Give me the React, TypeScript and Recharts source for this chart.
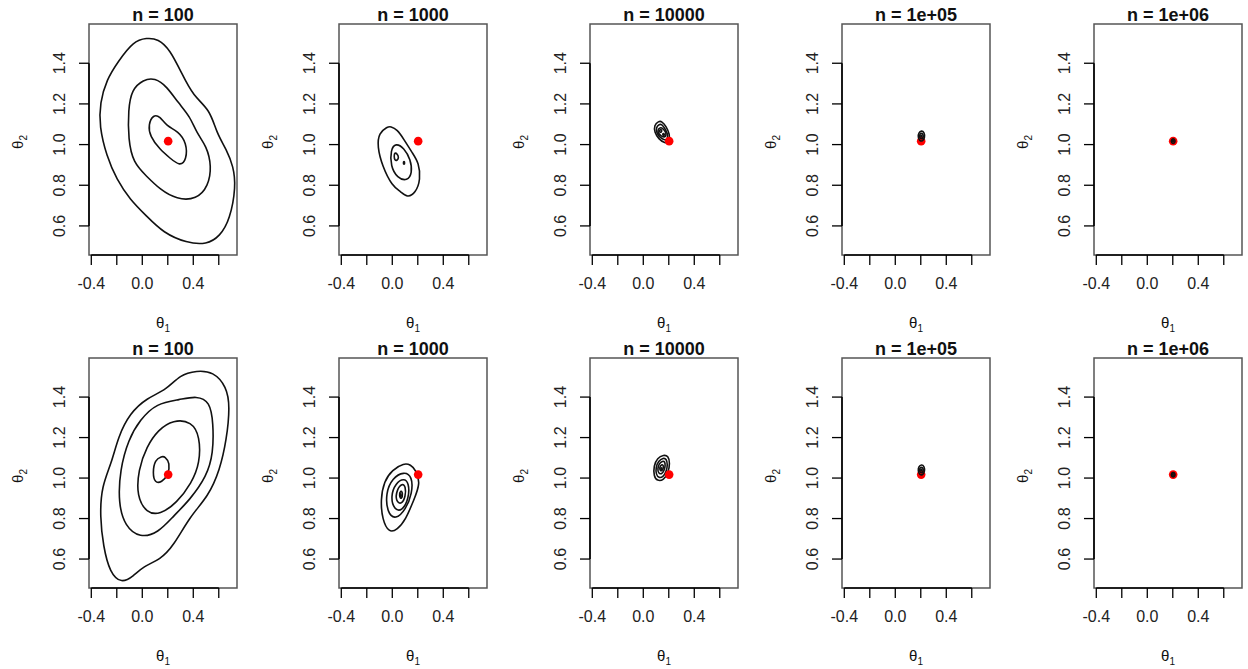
import React from 'react';
import {
  ComposedChart,
  Line,
  Scatter,
  XAxis,
  YAxis,
  ReferenceLine,
  ReferenceArea,
} from 'recharts';

const FONT = '"Liberation Sans", Arial, Helvetica, sans-serif';

const titles = ['n = 100', 'n = 1000', 'n = 10000', 'n = 1e+05', 'n = 1e+06'];
const xTicks = [-0.4, -0.2, 0, 0.2, 0.4, 0.6];
const xLabelled = [-0.4, 0, 0.4];
const yTicks = [0.6, 0.8, 1.0, 1.2, 1.4];
const X_DOMAIN = [-0.418, 0.743];
const Y_DOMAIN = [0.457, 1.593];
const truth = [[0.203, 1.017]];

// top row, n = 100
const top100Outer = [
  [0.034, 1.525], [-0.071, 1.508], [-0.188, 1.41], [-0.28, 1.32], [-0.332, 1.205],
  [-0.337, 1.09], [-0.28, 0.943], [-0.201, 0.828], [-0.097, 0.73], [0.034, 0.648],
  [0.165, 0.566], [0.348, 0.516], [0.505, 0.508], [0.609, 0.549], [0.688, 0.631],
  [0.735, 0.795], [0.714, 0.893], [0.661, 0.975], [0.583, 1.057], [0.531, 1.172],
  [0.4, 1.238], [0.308, 1.352], [0.217, 1.467], [0.125, 1.52],
];
const top100Mid = [
  [0.008, 1.32], [-0.084, 1.27], [-0.11, 1.172], [-0.11, 1.025], [-0.071, 0.91],
  [0.034, 0.844], [0.139, 0.779], [0.27, 0.73], [0.426, 0.73], [0.518, 0.795],
  [0.544, 0.893], [0.505, 0.992], [0.426, 1.057], [0.374, 1.139], [0.282, 1.205],
  [0.191, 1.287], [0.099, 1.328],
];
const top100Inner = [
  [0.086, 1.148], [0.047, 1.098], [0.06, 1.041], [0.139, 0.975], [0.217, 0.934],
  [0.295, 0.893], [0.348, 0.926], [0.348, 1.008], [0.282, 1.066], [0.191, 1.09],
  [0.139, 1.139],
];

// top row, n = 1000
const top1000Outer = [
  [-0.039, 1.087], [-0.105, 1.057], [-0.118, 0.992], [-0.078, 0.893], [0.0, 0.795],
  [0.065, 0.77], [0.118, 0.738], [0.183, 0.762], [0.222, 0.828], [0.209, 0.91],
  [0.157, 0.959], [0.092, 1.025], [0.039, 1.074], [-0.013, 1.09],
];
const top1000Mid = [
  [0.026, 1.008], [-0.013, 0.975], [-0.013, 0.893], [0.039, 0.836], [0.118, 0.82],
  [0.157, 0.861], [0.144, 0.926], [0.092, 0.984],
];
const top1000Tri = [[0.013, 0.975], [0.013, 0.91], [0.065, 0.934]];
const top1000Dot = [[0.092, 0.92], [0.085, 0.91], [0.092, 0.9], [0.099, 0.91]];

// top row, n = 10000
const top1e4Ring1 = [
  [0.12, 1.115], [0.085, 1.095], [0.088, 1.06], [0.12, 1.028], [0.17, 1.005],
  [0.205, 1.015], [0.208, 1.05], [0.18, 1.09], [0.145, 1.115],
];
const top1e4Ring2 = [
  [0.125, 1.1], [0.1, 1.085], [0.104, 1.058], [0.13, 1.035], [0.168, 1.02],
  [0.192, 1.028], [0.192, 1.052], [0.168, 1.082], [0.145, 1.1],
];
const top1e4Ring3 = [
  [0.13, 1.085], [0.113, 1.072], [0.118, 1.055], [0.14, 1.042], [0.168, 1.035],
  [0.18, 1.045], [0.176, 1.062], [0.155, 1.08],
];
const top1e4Ring4 = [[0.133, 1.075], [0.124, 1.066], [0.134, 1.058], [0.146, 1.064], [0.143, 1.073]];
const top1e4Ring5 = [[0.158, 1.056], [0.15, 1.05], [0.16, 1.043], [0.168, 1.049]];

// top row, n = 1e+05
const top1e5Ring1 = [
  [0.205, 1.07], [0.183, 1.058], [0.178, 1.038], [0.19, 1.018], [0.215, 1.016],
  [0.232, 1.035], [0.228, 1.06],
];
const top1e5Ring2 = [[0.205, 1.058], [0.19, 1.05], [0.19, 1.033], [0.205, 1.026], [0.22, 1.034], [0.22, 1.05]];
const top1e5Ring3 = [[0.205, 1.048], [0.197, 1.042], [0.205, 1.035], [0.212, 1.042]];

// top row, n = 1e+06
const top1e6Ring1 = [
  [0.203, 1.03], [0.188, 1.024], [0.188, 1.01], [0.203, 1.004], [0.218, 1.01], [0.218, 1.024],
];
const top1e6Ring2 = [[0.203, 1.022], [0.196, 1.017], [0.203, 1.012], [0.21, 1.017]];

// bottom row, n = 100
const bot100Ring1 = [
  [0.426, 1.531], [0.295, 1.51], [0.191, 1.436], [0.034, 1.395], [-0.097, 1.32],
  [-0.188, 1.206], [-0.241, 1.074], [-0.319, 0.959], [-0.332, 0.811], [-0.306, 0.663],
  [-0.254, 0.531], [-0.162, 0.479], [-0.071, 0.515], [0.008, 0.564], [0.139, 0.597],
  [0.243, 0.663], [0.374, 0.811], [0.518, 0.91], [0.609, 1.041], [0.661, 1.189],
  [0.688, 1.354], [0.661, 1.452], [0.557, 1.526],
];
const bot100Ring2 = [
  [0.426, 1.406], [0.295, 1.387], [0.112, 1.37], [-0.018, 1.288], [-0.11, 1.189],
  [-0.175, 1.041], [-0.188, 0.877], [-0.136, 0.762], [-0.018, 0.704], [0.125, 0.729],
  [0.243, 0.811], [0.374, 0.893], [0.505, 1.008], [0.557, 1.122], [0.557, 1.271],
  [0.531, 1.378],
];
const bot100Ring3 = [
  [0.243, 1.288], [0.125, 1.239], [0.034, 1.156], [-0.031, 1.041], [-0.044, 0.91],
  [0.034, 0.827], [0.139, 0.819], [0.27, 0.877], [0.387, 0.975], [0.452, 1.074],
  [0.452, 1.206], [0.387, 1.28],
];
const bot100Ring4 = [
  [0.152, 1.107], [0.099, 1.09], [0.081, 1.025], [0.099, 0.975], [0.152, 0.979],
  [0.204, 1.016], [0.217, 1.074], [0.178, 1.107],
];

// bottom row, n = 1000
const bot1000Ring1 = [
  [0.092, 1.074], [0.0, 1.041], [-0.065, 0.984], [-0.092, 0.893], [-0.078, 0.794],
  [-0.026, 0.729], [0.039, 0.745], [0.105, 0.794], [0.17, 0.893], [0.222, 0.975],
  [0.183, 1.041], [0.144, 1.066],
];
const bot1000Ring2 = [
  [0.092, 1.033], [0.0, 1.0], [-0.052, 0.926], [-0.039, 0.827], [0.026, 0.794],
  [0.105, 0.844], [0.157, 0.926], [0.157, 1.008],
];
const bot1000Ring3 = [
  [0.092, 1.0], [0.026, 0.975], [-0.013, 0.91], [0.013, 0.844], [0.078, 0.836],
  [0.131, 0.901], [0.131, 0.975],
];
const bot1000Ring4 = [
  [0.078, 0.975], [0.034, 0.942], [0.026, 0.885], [0.073, 0.868], [0.105, 0.91], [0.105, 0.959],
];
const bot1000Ring5 = [[0.065, 0.942], [0.052, 0.91], [0.073, 0.893], [0.084, 0.926]];
const bot1000Dot = [[0.065, 0.925], [0.06, 0.915], [0.066, 0.905], [0.072, 0.915]];

// bottom row, n = 10000
const bot1e4Ring1 = [
  [0.16, 1.115], [0.11, 1.1], [0.082, 1.06], [0.082, 1.01], [0.11, 0.985],
  [0.16, 0.99], [0.195, 1.025], [0.21, 1.075], [0.195, 1.11],
];
const bot1e4Ring2 = [
  [0.158, 1.1], [0.118, 1.085], [0.098, 1.052], [0.1, 1.018], [0.122, 1.0],
  [0.155, 1.005], [0.18, 1.03], [0.192, 1.068], [0.18, 1.095],
];
const bot1e4Ring3 = [
  [0.152, 1.085], [0.124, 1.072], [0.112, 1.046], [0.118, 1.024], [0.142, 1.018],
  [0.163, 1.035], [0.174, 1.062], [0.168, 1.082],
];
const bot1e4Ring4 = [[0.148, 1.068], [0.13, 1.058], [0.128, 1.04], [0.143, 1.033], [0.158, 1.047], [0.158, 1.063]];
const bot1e4Ring5 = [[0.142, 1.052], [0.136, 1.046], [0.142, 1.04], [0.148, 1.047]];

// bottom row, n = 1e+05
const bot1e5Ring1 = [
  [0.205, 1.068], [0.183, 1.056], [0.178, 1.036], [0.19, 1.016], [0.215, 1.014],
  [0.232, 1.033], [0.228, 1.058],
];
const bot1e5Ring2 = [[0.205, 1.056], [0.19, 1.048], [0.19, 1.031], [0.205, 1.024], [0.22, 1.032], [0.22, 1.048]];
const bot1e5Ring3 = [[0.205, 1.046], [0.197, 1.04], [0.205, 1.033], [0.212, 1.04]];

// bottom row, n = 1e+06
const bot1e6Ring1 = [
  [0.203, 1.029], [0.188, 1.023], [0.188, 1.01], [0.203, 1.004], [0.218, 1.01], [0.218, 1.023],
];
const bot1e6Ring2 = [[0.203, 1.021], [0.196, 1.017], [0.203, 1.012], [0.21, 1.017]];

const topRow = [
  [top100Outer, top100Mid, top100Inner],
  [top1000Outer, top1000Mid, top1000Tri, top1000Dot],
  [top1e4Ring1, top1e4Ring2, top1e4Ring3, top1e4Ring4, top1e4Ring5],
  [top1e5Ring1, top1e5Ring2, top1e5Ring3],
  [top1e6Ring1, top1e6Ring2],
];
const bottomRow = [
  [bot100Ring1, bot100Ring2, bot100Ring3, bot100Ring4],
  [bot1000Ring1, bot1000Ring2, bot1000Ring3, bot1000Ring4, bot1000Ring5, bot1000Dot],
  [bot1e4Ring1, bot1e4Ring2, bot1e4Ring3, bot1e4Ring4, bot1e4Ring5],
  [bot1e5Ring1, bot1e5Ring2, bot1e5Ring3],
  [bot1e6Ring1, bot1e6Ring2],
];

const boxLefts = [89, 339, 590, 842, 1094];
const rows = [
  { top: 0, boxTop: 24, boxH: 231, contours: topRow },
  { top: 334, boxTop: 358, boxH: 230, contours: bottomRow },
];

const toPts = (arr: number[][]) => arr.map(([x, y]) => ({ x, y }));

const YTick = (props: any) => {
  const { x, y, payload } = props;
  const bx = x - 13.5;
  return (
    <text
      x={bx}
      y={y}
      transform={`rotate(-90 ${bx} ${y})`}
      textAnchor="middle"
      fontSize={16}
      fontFamily={FONT}
      fill="#222"
    >
      {payload.value.toFixed(1)}
    </text>
  );
};

function Panel({ contours, boxH, pointOnTop }: { contours: number[][][]; boxH: number; pointOnTop: boolean }) {
  const H = 334;
  const point = (
    <Scatter
      data={toPts(truth)}
      isAnimationActive={false}
      zIndex={pointOnTop ? 700 : 300}
      shape={(p: any) => <circle cx={p.cx} cy={p.cy} r={4.3} fill="#ff0000" />}
    />
  );
  return (
    <ComposedChart
      width={250}
      height={H}
      margin={{ top: 24, right: 13, left: 29, bottom: H - 24 - boxH - 50 }}
    >
      <XAxis
        type="number"
        dataKey="x"
        domain={X_DOMAIN}
        allowDataOverflow
        ticks={xTicks}
        interval={0}
        tickFormatter={(v: number) => (xLabelled.includes(v) ? v.toFixed(1) : '')}
        axisLine={false}
        tickLine={{ stroke: '#000', strokeWidth: 1.3 }}
        tickSize={10}
        tickMargin={13}
        height={50}
        tick={{ fill: '#222', fontSize: 16, fontFamily: FONT }}
      />
      <YAxis
        type="number"
        dataKey="y"
        domain={Y_DOMAIN}
        allowDataOverflow
        ticks={yTicks}
        interval={0}
        axisLine={false}
        tickLine={{ stroke: '#000', strokeWidth: 1.3 }}
        tickSize={10}
        tickMargin={0}
        width={60}
        tick={<YTick />}
      />
      <ReferenceArea
        x1={X_DOMAIN[0]}
        x2={X_DOMAIN[1]}
        y1={Y_DOMAIN[0]}
        y2={Y_DOMAIN[1]}
        fill="none"
        stroke="#555"
        strokeWidth={1.5}
        ifOverflow="visible"
      />
      <ReferenceLine
        segment={[{ x: -0.4, y: Y_DOMAIN[0] }, { x: 0.6, y: Y_DOMAIN[0] }]}
        stroke="#000"
        strokeWidth={1.6}
        ifOverflow="visible"
      />
      <ReferenceLine
        segment={[{ x: X_DOMAIN[0], y: 0.6 }, { x: X_DOMAIN[0], y: 1.4 }]}
        stroke="#000"
        strokeWidth={1.6}
        ifOverflow="visible"
      />
      {!pointOnTop && point}
      {contours.map((c, i) => (
        <Line
          key={i}
          data={toPts(c)}
          dataKey="y"
          type="basisClosed"
          stroke="#111"
          strokeWidth={1.6}
          dot={false}
          activeDot={false}
          isAnimationActive={false}
          zIndex={500}
        />
      ))}
      {pointOnTop && point}
    </ComposedChart>
  );
}

export default function App() {
  return (
    <div
      style={{
        position: 'absolute',
        left: 0,
        top: 0,
        width: 1248,
        height: 669,
        background: '#fff',
        overflow: 'hidden',
      }}
    >
      {rows.map((row, r) =>
        boxLefts.map((bl, c) => (
          <div key={`${r}-${c}`} style={{ position: 'absolute', left: bl - 89, top: row.top }}>
            <Panel contours={row.contours[c]} boxH={row.boxH} pointOnTop={c < 3} />
          </div>
        ))
      )}
      <svg
        width={1248}
        height={669}
        style={{ position: 'absolute', left: 0, top: 0, pointerEvents: 'none' }}
      >
        {rows.map((row, r) =>
          boxLefts.map((bl, c) => (
            <g key={`${r}-${c}`} fontFamily={FONT} fill="#111">
              <text x={bl + 74} y={row.boxTop - 3} textAnchor="middle" fontSize={18} fontWeight="bold">
                {titles[c]}
              </text>
              <text x={bl + 74} y={row.boxTop + row.boxH + 73} textAnchor="middle" fontSize={15}>
                θ<tspan fontSize={10} dy={4}>1</tspan>
              </text>
              <text
                transform={`translate(${bl - 66}, ${row.boxTop + 118}) rotate(-90)`}
                textAnchor="middle"
                fontSize={15}
              >
                θ<tspan fontSize={10} dy={4}>2</tspan>
              </text>
            </g>
          ))
        )}
      </svg>
    </div>
  );
}
